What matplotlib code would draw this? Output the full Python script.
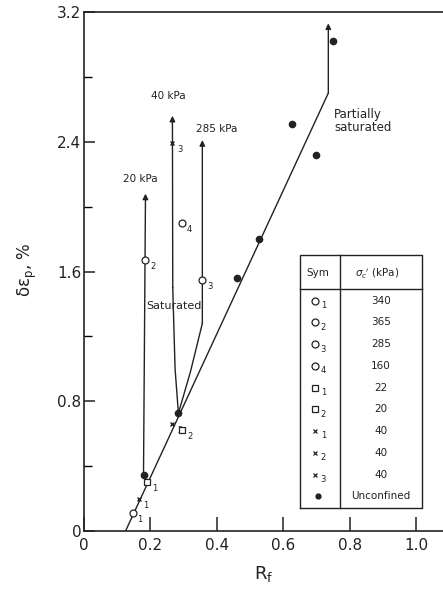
import numpy as np
import matplotlib
matplotlib.use("Agg")
from matplotlib import pyplot as plt

# -----------------------------
# Data
# -----------------------------
# unconfined (partially saturated) tests
unconf_rf = [0.179, 0.284, 0.461, 0.526, 0.626, 0.699, 0.748]
unconf_de = [0.345, 0.726, 1.56, 1.80, 2.51, 2.32, 3.02]

# partially saturated trend line
partial_rf = [0.125, 0.735, 0.735]
partial_de = [0.0, 2.70, 3.13]

# saturated paths (arrow at the last point)
path20_rf = [0.179, 0.185]
path20_de = [0.345, 2.08]
path40_rf = [0.284, 0.274, 0.267, 0.266]
path40_de = [0.726, 1.00, 1.50, 2.56]
path285_rf = [0.284, 0.320, 0.356, 0.356]
path285_de = [0.726, 0.98, 1.28, 2.41]

# open symbols with their subscripts
circ_rf = [0.146, 0.185, 0.356, 0.296]
circ_de = [0.11, 1.67, 1.545, 1.90]
circ_ids = ["1", "2", "3", "4"]
sq_rf = [0.190, 0.296]
sq_de = [0.30, 0.62]
sq_ids = ["1", "2"]
x_rf = [0.164, 0.266, 0.266]
x_de = [0.20, 0.66, 2.39]
x_ids = ["1", "2", "3"]

# legend table
table_syms = ["o", "o", "o", "o", "s", "s", "x", "x", "x", "."]
table_ids = ["1", "2", "3", "4", "1", "2", "1", "2", "3", ""]
table_vals = ["340", "365", "285", "160", "22", "20", "40", "40", "40", "Unconfined"]


def main():
    plt.rcParams["font.family"] = ["DejaVu Sans"]
    fig = plt.figure(figsize=(4.43, 5.92), dpi=100)
    ax = fig.add_axes([84 / 443, 61 / 592, 1 - 84 / 443, 519 / 592])
    ax.set_xlim(0, 1.08)
    ax.set_ylim(0, 3.2)

    k = "#222222"
    for rf, de in [(partial_rf, partial_de), (path20_rf, path20_de),
                   (path40_rf, path40_de), (path285_rf, path285_de)]:
        ax.plot(rf[:-1], de[:-1], color=k, lw=1.0)
        ax.annotate("", xy=(rf[-1], de[-1]), xytext=(rf[-2], de[-2]),
                    arrowprops=dict(arrowstyle="-|>", color=k, lw=1.0,
                                    mutation_scale=8, shrinkA=0, shrinkB=0))

    ax.plot(unconf_rf, unconf_de, "o", color=k, ms=4.5, ls="none", zorder=5)
    ax.plot(circ_rf, circ_de, "o", mfc="white", mec=k, ms=5, mew=0.9, ls="none", zorder=5)
    ax.plot(sq_rf, sq_de, "s", mfc="white", mec=k, ms=4.5, mew=0.9, ls="none", zorder=5)
    ax.plot(x_rf, x_de, "x", color=k, ms=3.5, mew=1.0, ls="none", zorder=5)
    for rfs, des, ids in [(circ_rf, circ_de, circ_ids), (sq_rf, sq_de, sq_ids),
                          (x_rf, x_de, x_ids)]:
        for rf, de, s in zip(rfs, des, ids):
            ax.text(rf + 0.014, de - 0.04, s, fontsize=6, color=k, va="center")

    ax.text(0.170, 2.17, "20 kPa", fontsize=7.5, ha="center", va="center", color=k)
    ax.text(0.254, 2.68, "40 kPa", fontsize=7.5, ha="center", va="center", color=k)
    ax.text(0.400, 2.48, "285 kPa", fontsize=7.5, ha="center", va="center", color=k)
    ax.text(0.752, 2.53, "Partially\nsaturated", fontsize=8.5, ha="left", va="center",
            color=k, linespacing=1.0)
    ax.text(0.270, 1.39, "Saturated", fontsize=8, ha="center", va="center", color=k)

    # legend table
    x0, x1, xm = 0.651, 1.018, 0.771
    y0, y1, yh = 0.14, 1.70, 1.49
    ax.plot([x0, x1, x1, x0, x0], [y0, y0, y1, y1, y0], color=k, lw=1.0)
    ax.plot([x0, x1], [yh, yh], color=k, lw=1.0)
    ax.plot([xm, xm], [y0, y1], color=k, lw=1.0)
    ax.text(0.703, 1.59, "Sym", fontsize=7.5, ha="center", va="center", color=k)
    ax.text(0.883, 1.59, r"$\sigma_c$$'$ (kPa)", fontsize=7.5, ha="center", va="center", color=k)
    for i, (m, s, v) in enumerate(zip(table_syms, table_ids, table_vals)):
        yy = 1.42 - 0.134 * i
        if m == ".":
            ax.plot(0.703, yy, "o", color=k, ms=3.5)
        elif m == "x":
            ax.plot(0.696, yy, "x", color=k, ms=3, mew=0.9)
        else:
            ax.plot(0.696, yy, m, mfc="white", mec=k, ms=5, mew=0.9)
        ax.text(0.712, yy - 0.03, s, fontsize=6, ha="left", va="center", color=k)
        ax.text(0.893, yy, v, fontsize=7.5, ha="center", va="center", color=k)

    ax.spines["right"].set_visible(False)
    for sp in ax.spines.values():
        sp.set_color(k)
        sp.set_linewidth(1.2)

    ax.set_xticks([0, 0.2, 0.4, 0.6, 0.8, 1.0])
    ax.set_xticklabels(["0", "0.2", "0.4", "0.6", "0.8", "1.0"])
    ax.set_yticks([0, 0.8, 1.6, 2.4, 3.2])
    ax.set_yticklabels(["0", "0.8", "1.6", "2.4", "3.2"])
    ax.set_yticks([0.4, 1.2, 2.0, 2.8], minor=True)
    ax.tick_params(axis="x", direction="in", length=10, width=1.1, pad=5,
                   labelsize=11, colors=k)
    ax.tick_params(axis="y", direction="in", length=8, width=1.1, pad=2,
                   labelsize=11, colors=k)
    ax.tick_params(axis="y", which="minor", direction="in", length=6, width=1.0)

    ax.set_xlabel(r"R$_\mathregular{f}$", fontsize=13, color=k, labelpad=8)
    fig.text(27 / 443, 1 - 270 / 592, r"$\mathregular{\delta\epsilon_p}$, %", rotation=90,
             fontsize=12, ha="center", va="center", color=k)

    fig.savefig("out.png", dpi=100)


if __name__ == "__main__":
    main()
